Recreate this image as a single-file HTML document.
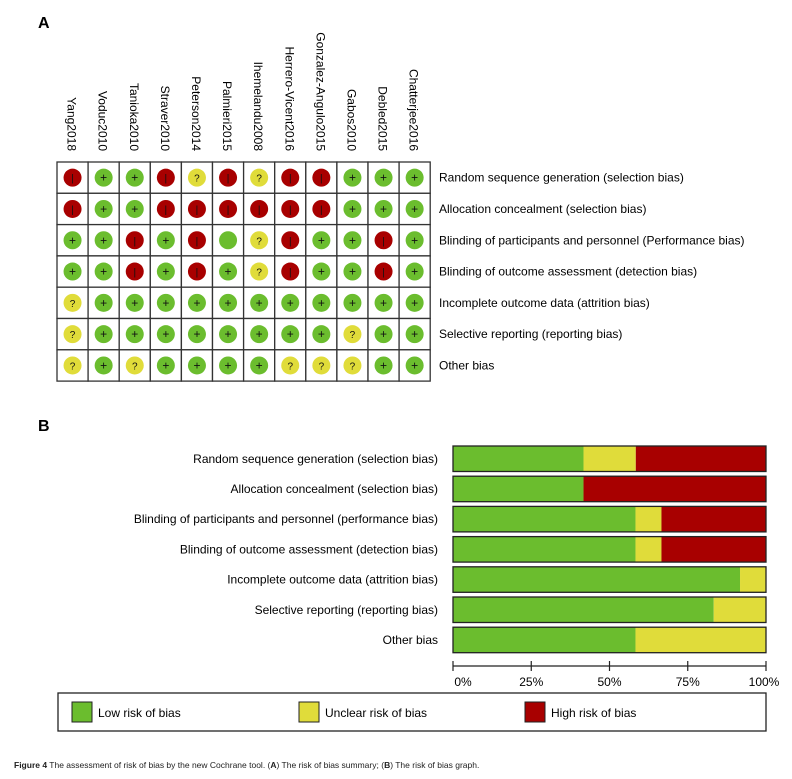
<!DOCTYPE html>
<html><head><meta charset="utf-8"><style>
body{margin:0;background:#fff;width:792px;height:779px;overflow:hidden}
svg{display:block;font-family:"Liberation Sans",Arial,sans-serif}
</style></head><body>
<svg id="fig" width="792" height="779" viewBox="0 0 792 779">
<text x="38" y="28" font-size="16" font-weight="bold">A</text>
<text x="38" y="431" font-size="16" font-weight="bold">B</text>
<g id="gA"></g>
<g id="gB"></g>
<text x="14" y="768" font-size="8.5" fill="#222"><tspan font-weight="bold">Figure 4</tspan> The assessment of risk of bias by the new Cochrane tool. (<tspan font-weight="bold">A</tspan>) The risk of bias summary; (<tspan font-weight="bold">B</tspan>) The risk of bias graph.</text>
</svg>
<script>
const studies=["Yang2018","Voduc2010","Tanioka2010","Straver2010","Peterson2014","Palmieri2015","Ihemelandu2008","Herrero-Vicent2016","Gonzalez-Angulo2015","Gabos2010","Debled2015","Chatterjee2016"];
const domainsA=["Random sequence generation (selection bias)","Allocation concealment (selection bias)","Blinding of participants and personnel (Performance bias)","Blinding of outcome assessment (detection bias)","Incomplete outcome data (attrition bias)","Selective reporting (reporting bias)","Other bias"];
const domainsB=["Random sequence generation (selection bias)","Allocation concealment (selection bias)","Blinding of participants and personnel (performance bias)","Blinding of outcome assessment (detection bias)","Incomplete outcome data (attrition bias)","Selective reporting (reporting bias)","Other bias"];
// L=low, U=unclear, H=high, G=low without sign
const judgements=[
["H","L","L","H","U","H","U","H","H","L","L","L"],
["H","L","L","H","H","H","H","H","H","L","L","L"],
["L","L","H","L","H","G","U","H","L","L","H","L"],
["L","L","H","L","H","L","U","H","L","L","H","L"],
["U","L","L","L","L","L","L","L","L","L","L","L"],
["U","L","L","L","L","L","L","L","L","U","L","L"],
["U","L","U","L","L","L","L","U","U","U","L","L"]];
const lowPct=[41.7,41.7,58.3,58.3,91.7,83.3,58.3];
const unclearPct=[16.7,0,8.3,8.3,8.3,16.7,41.7];
const highPct=[41.7,58.3,33.3,33.3,0,0,0];
const ticks=[0,25,50,75,100];
const NS="http://www.w3.org/2000/svg";
function mk(p,t,a){const e=document.createElementNS(NS,t);for(const k in a)e.setAttribute(k,a[k]);p.appendChild(e);return e;}
const C={L:"#6bbd2e",G:"#6bbd2e",U:"#e0dc3a",H:"#a80000"};
const gA=document.getElementById("gA"),gB=document.getElementById("gB");
const x0=57,y0=162,cw=31.1,rh=31.3;
const colX=i=>x0+cw*i, rowY=j=>y0+rh*j;
studies.forEach((s,i)=>{
 const t=mk(gA,"text",{x:0,y:0,"font-size":"12","text-anchor":"end",transform:`translate(${colX(i)+cw/2-5},151) rotate(90)`});
 t.textContent=s;
 
 
});
domainsA.forEach((d,j)=>{
 const t=mk(gA,"text",{x:439,y:rowY(j)+rh/2+4,"font-size":"12"});
 t.textContent=d;
 
 
 studies.forEach((s,i)=>{
  const v=judgements[j][i];
  const r=mk(gA,"rect",{x:colX(i),y:rowY(j),width:cw,height:rh,fill:"#fff",stroke:"#333","stroke-width":1.3});
  
  
  const cx=colX(i)+cw/2,cy=rowY(j)+rh/2;
  const c=mk(gA,"circle",{cx:cx,cy:cy,r:9,fill:C[v]});
  
  
  const sym=v==="L"?"+":v==="H"?"|":v==="U"?"?":"";
  if(sym){const st=mk(gA,"text",{x:cx,y:cy+4,"font-size":v==="L"?"12":"10","text-anchor":"middle",fill:"#111"});st.textContent=sym;
   
   }
 });
});
// Panel B
const bx0=453,bx1=766,by0=446,bh=25.5,bstep=30.2;
const xs=p=>bx0+(bx1-bx0)*p/100;
domainsB.forEach((d,j)=>{
 const y=by0+bstep*j;
 const t=mk(gB,"text",{x:438,y:y+bh/2+4,"font-size":"12","text-anchor":"end"});
 t.textContent=d;
 
 
 const segs=[[lowPct[j],C.L],[unclearPct[j],C.U],[highPct[j],C.H]];
 let acc=0;
 segs.forEach(([v,col])=>{ if(v>0){const r=mk(gB,"rect",{x:xs(acc),y:y,width:xs(acc+v)-xs(acc),height:bh,fill:col});
  
  } acc+=v;});
 const o=mk(gB,"rect",{x:bx0,y:y,width:bx1-bx0,height:bh,fill:"none",stroke:"#222","stroke-width":1.3});
 
 
});
const ax=mk(gB,"line",{x1:bx0,x2:bx1,y1:666,y2:666,stroke:"#222","stroke-width":1.2});


ticks.forEach(tk=>{
 const l=mk(gB,"line",{x1:xs(tk),x2:xs(tk),y1:661,y2:671,stroke:"#222","stroke-width":1.2});
 
 
 const t=mk(gB,"text",{x:xs(tk)+(tk===0?10:tk===100?-2:0),y:686,"font-size":"12","text-anchor":"middle"});
 t.textContent=tk+"%";
 
 
});
const lg=mk(gB,"rect",{x:58,y:693,width:708,height:38,fill:"#fff",stroke:"#222","stroke-width":1.3});


[["Low risk of bias",C.L,72],["Unclear risk of bias",C.U,299],["High risk of bias",C.H,525]].forEach(([n,col,x])=>{
 const r=mk(gB,"rect",{x:x,y:702,width:20,height:20,fill:col,stroke:"#222","stroke-width":1});
 
 
 const t=mk(gB,"text",{x:x+26,y:717,"font-size":"12"});
 t.textContent=n;
 
 
});
</script>
</body></html>
